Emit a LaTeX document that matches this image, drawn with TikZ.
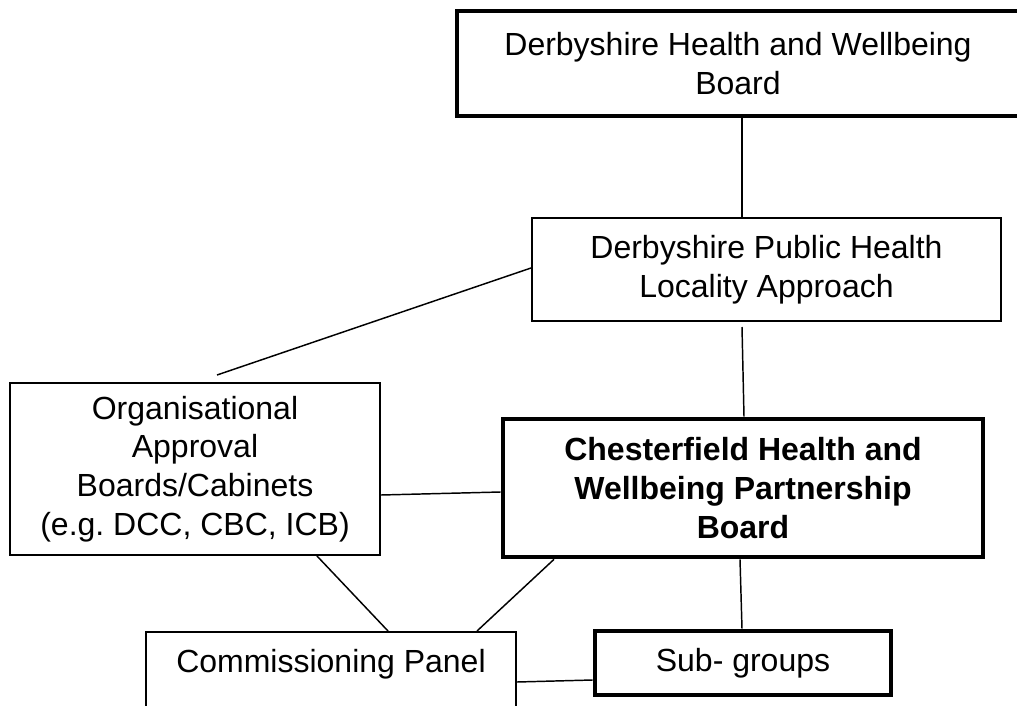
\documentclass[tikz,border=0pt]{standalone}
\usepackage{fontspec}
\setmainfont{Liberation Sans}
\usetikzlibrary{calc}
\tikzset{every picture/.style={line width=0.75pt}}
\frenchspacing

\begin{document}
\begin{tikzpicture}[x=0.75pt,y=0.75pt,yscale=-1,xscale=1,
  thinbox/.style={draw, line width=1.5pt, align=center, inner sep=0pt,
    font=\fontsize{24}{29}\selectfont},
  thickbox/.style={thinbox, line width=3.5pt},
  link/.style={line width=1.1pt}]
%set diagram left start at 0, and has height of 706
\useasboundingbox (0,0) rectangle (1017,706);
\clip (0,0) rectangle (1017,706);

%Shape: Rectangle [id:dhwb]
\node [thickbox, minimum width=421.5pt, minimum height=78.75pt] (dhwb) at (738,63.5) {Derbyshire Health and Wellbeing\\Board};
%Shape: Rectangle [id:locality]
\node [thinbox, minimum width=351.75pt, minimum height=77.25pt] (locality) at (766.5,269.5) {Derbyshire Public Health\\Locality Approach};
%Shape: Rectangle [id:org]
\node [thinbox, minimum width=277.5pt, minimum height=129pt] (org) at (195,469) {Organisational\\Approval\\Boards/Cabinets\\(e.g. DCC, CBC, ICB)};
%Shape: Rectangle [id:chp]
\node [thickbox, minimum width=360pt, minimum height=103.5pt, font=\fontsize{24}{29}\selectfont\bfseries] (chp) at (743,488) {Chesterfield Health and\\Wellbeing Partnership\\Board};
%Shape: Rectangle [id:panel]
\node [thinbox, minimum width=277.5pt, text height=30pt, text depth=60pt] (panel) at (331,692) {Commissioning Panel};
%Shape: Rectangle [id:subgroups]
\node [thickbox, minimum width=222pt, minimum height=48pt] (subgroups) at (743,663) {Sub- groups};

%Straight Lines
\draw [link] ($(dhwb.south)+(4,0)$) -- ($(locality.north)+(-24.5,0)$) ;
%Straight Lines
\draw [link] ($(locality.south)+(-24.5,5)$) -- ($(chp.north)+(1,0)$) ;
%Straight Lines
\draw [link] ($(org.north)+(22,-7)$) -- ($(locality.west)+(0,-1.5)$) ;
%Straight Lines
\draw [link] ($(org.east)+(0,26)$) -- ($(chp.west)+(0,4)$) ;
%Straight Lines
\draw [link] ($(org.south)+(122,0)$) -- ($(panel.north)+(57,0)$) ;
%Straight Lines
\draw [link] ($(chp.south)+(-189,0)$) -- ($(panel.north)+(146,0)$) ;
%Straight Lines
\draw [link] ($(chp.south)+(-3,0)$) -- ($(subgroups.north)+(-1,0)$) ;
%Straight Lines
\draw [link] ($(panel.east)+(0,-10)$) -- ($(subgroups.west)+(0,17)$) ;

\end{tikzpicture}
\end{document}
